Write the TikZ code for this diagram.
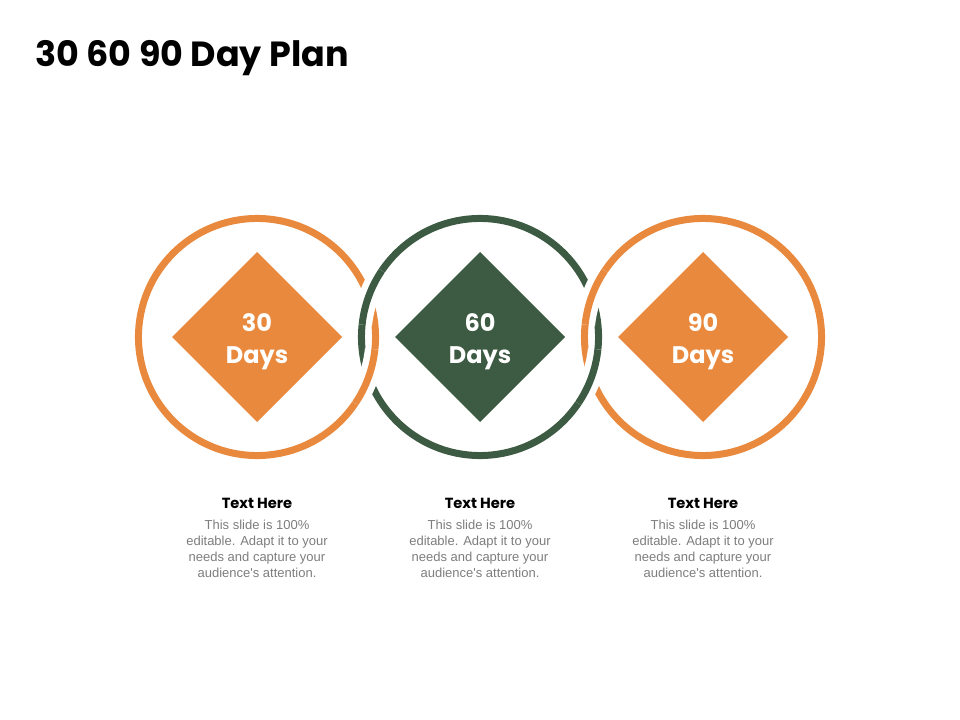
\documentclass[tikz,border=0pt]{standalone}
\usepackage{fontspec}
\newfontfamily\gothic{Poppins}
\newfontfamily\arial{Liberation Sans}
\usepackage{tikz}
\usetikzlibrary{positioning,shapes.geometric}
\definecolor{dayorange}{RGB}{232,137,62}
\definecolor{daygreen}{RGB}{60,91,66}
\definecolor{bodygray}{RGB}{125,125,125}
\newcommand{\ringr}{88.9pt}

\begin{document}
\begin{tikzpicture}[x=0.75pt,y=-0.75pt,
    daybox/.style={diamond,aspect=1,minimum width=127.5pt,minimum height=127.5pt,inner sep=0pt,outer sep=0pt},
    daytext/.style={inner sep=0pt,text=white,align=center,font={\gothic\bfseries\fontsize{18}{24}\selectfont}},
    ring/.style={line width=5.25pt},
    link/.style={ring,preaction={draw=white,line width=15pt}},
    headtext/.style={inner sep=0pt,outer sep=0pt,font={\gothic\bfseries\fontsize{11}{12}\selectfont}},
    bodytext/.style={inner sep=0pt,outer sep=0pt,align=center,text=bodygray,font={\arial\fontsize{9.75}{12}\selectfont}}]
    %\draw[help lines] (0,0) grid (960,720);
    \useasboundingbox (0,0) rectangle (960,720);
    \node[anchor=base west,inner sep=0pt,font={\gothic\bfseries\fontsize{26.2}{32}\selectfont}] (title) at (35,67) {30 60 90 Day Plan} ;
    \node[daybox,fill=dayorange] (d30) at (257,337) {} ;
    \node[daybox,fill=daygreen] (d60) [right=39.75pt of d30] {} ;
    \node[daybox,fill=dayorange] (d90) [right=39.75pt of d60] {} ;
    \foreach \n/\c in {d30/dayorange,d60/daygreen,d90/dayorange}
      \draw[ring,\c] (\n.center) circle[radius=\ringr] ;
    % over-crossings of the links
    \draw[link,daygreen] (d60.center) ++(146:\ringr) arc[start angle=146,end angle=174,radius=\ringr] ;
    \draw[link,dayorange] (d30.center) ++(-34:\ringr) arc[start angle=-34,end angle=-6,radius=\ringr] ;
    \draw[link,dayorange] (d90.center) ++(146:\ringr) arc[start angle=146,end angle=174,radius=\ringr] ;
    \draw[link,daygreen] (d60.center) ++(-34:\ringr) arc[start angle=-34,end angle=-6,radius=\ringr] ;
    \foreach \n in {30,60,90} {
      \node[daytext] (t\n) at ([yshift=-3.75pt]d\n.center) {\n\\Days} ;
      \node[headtext] (h\n) [below=57pt of d\n] {Text Here} ;
      \node[bodytext] (b\n) [below=8.5pt of h\n] {This slide is 100\%\\editable. Adapt it to your\\needs and capture your\\audience\textquotesingle s attention.} ;
    }
  \end{tikzpicture}
\end{document}
